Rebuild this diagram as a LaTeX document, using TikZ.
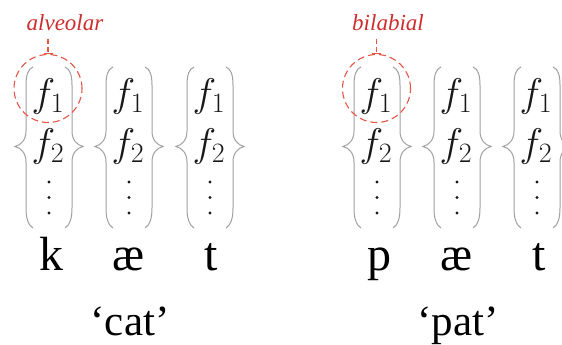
\RequirePackage{fix-cm}
\documentclass[tikz,border=0pt]{standalone}
\usepackage{fontspec}
\newfontfamily\tnrfont{Liberation Serif}
\usetikzlibrary{arrows.meta}
\definecolor{lblred}{RGB}{205,45,45}
\definecolor{circred}{RGB}{228,85,72}
\definecolor{bracegray}{RGB}{160,160,160}
\definecolor{fgray}{RGB}{25,25,25}
\tikzset{
  bracestyle/.style={draw=bracegray, line width=1pt},
  feat/.style={text=fgray, inner sep=0pt, font=\fontsize{40}{40}\selectfont},
  seg/.style={anchor=base, inner sep=0pt, font=\tnrfont\fontsize{48}{48}\selectfont},
  gloss/.style={anchor=base, inner sep=0pt, font=\tnrfont\fontsize{43}{43}\selectfont},
  lbl/.style={anchor=base, inner sep=0pt, text=lblred, font=\tnrfont\itshape\fontsize{23}{23}\selectfont},
  ring/.style={circle, draw=circred, dash pattern=on 7pt off 4pt, line width=1.1pt, minimum size=68pt, inner sep=0pt},
  pointer/.style={draw=circred, dash pattern=on 5pt off 3pt, line width=1.1pt, -{Bar[width=9pt,line width=1.1pt]}}
}
\begin{document}
\begin{tikzpicture}[x=1pt,y=-1pt]
\useasboundingbox (0,0) rectangle (562,345);
\foreach \cx/\n in {49/a,129/b,210/c,377/d,457/e,537/f}{
  \begin{scope}[xshift=\cx pt]
    \draw[bracestyle] (-16,67) .. controls (-21,69) and (-23,75) .. (-23,85) -- (-23,131)
      .. controls (-23,140) and (-28,145) .. (-34,146.5)
      .. controls (-28,148) and (-23,153) .. (-23,162) -- (-23,208)
      .. controls (-23,218) and (-21,225) .. (-16,228);
    \begin{scope}[xscale=-1]
    \draw[bracestyle] (-16,67) .. controls (-21,69) and (-23,75) .. (-23,85) -- (-23,131)
      .. controls (-23,140) and (-28,145) .. (-34,146.5)
      .. controls (-28,148) and (-23,153) .. (-23,162) -- (-23,208)
      .. controls (-23,218) and (-21,225) .. (-16,228);
    \end{scope}
    \node[feat] (f1\n) at (-1,96) {$f_1$};
    \node[feat] (f2\n) at (-1,146) {$f_2$};
    \fill[fgray] (0,182) circle[radius=1.7pt] (0,197.5) circle[radius=1.7pt] (0,213) circle[radius=1.7pt];
  \end{scope}
}
% segments
\node[seg] (k)  at (51,270) {k};
\node[seg] (ae1) at (129,270) {æ};
\node[seg] (t1) at (211,270) {t};
\node[seg] (p)  at (379,270) {p};
\node[seg] (ae2) at (457,270) {æ};
\node[seg] (t2) at (539,270) {t};
% glosses
\node[gloss] (cat) at (130,335) {‘cat’};
\node[gloss] (pat) at (458,335) {‘pat’};
% highlighted features
\node[ring] (ca) at (48,88.5) {};
\node[ring] (cd) at (376.5,88.5) {};
\node[lbl] (la) at (65,31) {alveolar};
\node[lbl] (lb) at (388,31) {bilabial};
\draw[pointer] ([yshift=-8pt]la.south -| ca.north) -- (ca.north);
\draw[pointer] ([yshift=-8pt]lb.south -| cd.north) -- (cd.north);
\end{tikzpicture}
\end{document}
